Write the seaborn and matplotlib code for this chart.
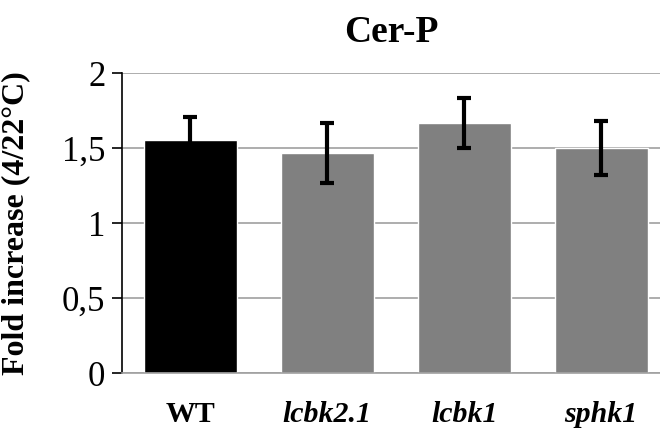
import numpy as np
import matplotlib
matplotlib.use('Agg')
import matplotlib.pyplot as plt
import seaborn as sns

# ── Datos ──────────────────────────────────────────────────────
genotipos = ['WT', 'lcbk2.1', 'lcbk1', 'sphk1']
medias = [1.553, 1.470, 1.667, 1.500]
errores = [0.155, 0.200, 0.165, 0.182]
colores = ['#000000', '#808080', '#808080', '#808080']

sns.set_theme(style='white')
plt.rcParams['font.family'] = ['Liberation Serif', 'DejaVu Serif']
plt.rcParams['text.color'] = 'black'
plt.rcParams['axes.labelcolor'] = 'black'
plt.rcParams['xtick.color'] = 'black'
plt.rcParams['ytick.color'] = 'black'

fig = plt.figure(figsize=(6.6, 4.3), dpi=100)
ax = fig.add_axes([122 / 660, 1 - 373 / 430, 538 / 660, 300 / 430])

sns.barplot(x=genotipos, y=medias, hue=genotipos, palette=colores,
            width=0.68, saturation=1, legend=False, ax=ax)
ax.errorbar(np.arange(len(genotipos)), medias, yerr=errores, fmt='none',
            ecolor='black', elinewidth=3, capsize=5, capthick=3, zorder=5)

ax.set_ylim(0, 2)
ax.set_xlim(-0.5, 3.43)
ax.set_yticks([0, 0.5, 1, 1.5, 2])
ax.set_yticklabels(['0', '0,5', '1', '1,5', '2'], fontsize=25)
ax.yaxis.grid(True, color='#a0a0a0', linewidth=1.2)
ax.set_axisbelow(True)

for s in ['top', 'right']:
    ax.spines[s].set_visible(False)
ax.spines['left'].set_color('black')
ax.spines['left'].set_linewidth(1.2)
ax.spines['bottom'].set_color('#a0a0a0')
ax.spines['bottom'].set_linewidth(1.2)
ax.tick_params(axis='y', which='both', left=True, length=7, width=1.2,
               color='black', pad=5)
ax.tick_params(axis='x', bottom=False, pad=14)

ax.set_xticks(range(len(genotipos)))
ax.set_xticklabels(genotipos, fontsize=21.5, fontweight='bold')
for i, lbl in enumerate(ax.get_xticklabels()):
    if i > 0:
        lbl.set_style('italic')

ax.set_ylabel('Fold increase (4/22°C)', fontsize=23, fontweight='bold')
ax.yaxis.set_label_coords(-0.17, 0.5)
ax.set_xlabel('')
ax.set_title('Cer-P', fontsize=27, fontweight='bold', pad=22)

fig.savefig('out.png', dpi=100)
